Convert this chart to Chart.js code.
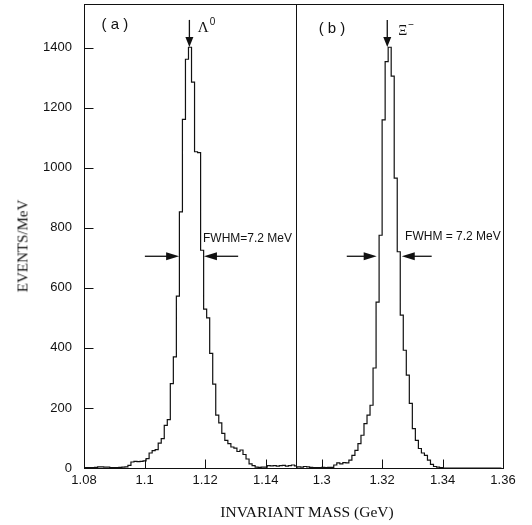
<!DOCTYPE html>
<html>
<head>
<meta charset="utf-8">
<script src="https://cdn.jsdelivr.net/npm/chart.js@4.4.1/dist/chart.umd.min.js"></script>
<style>
body { margin: 0; background: #fff; width: 532px; height: 525px; position: relative; overflow: hidden; }
canvas { position: absolute; top: 0; }
#lambdaChart { left: 0; }
#xiChart { left: 290px; }
.title { position: absolute; font-family: "Liberation Serif", serif; color: #111; white-space: nowrap; }
#ytitle { left: 23px; top: 246px; font-size: 15px; transform: translate(-50%, -50%) rotate(-90deg); }
#xtitle { left: 307px; top: 512px; font-size: 15.5px; transform: translate(-50%, -50%); }
</style>
</head>
<body>
<canvas id="lambdaChart" width="300" height="525"></canvas>
<canvas id="xiChart" width="242" height="525"></canvas>
<div class="title" id="ytitle">EVENTS/MeV</div>
<div class="title" id="xtitle">INVARIANT MASS (GeV)</div>
<script>
// panel (a): Lambda, 1 MeV bins
const lambdaMass = [
  1.080, 1.081, 1.082, 1.083, 1.084, 1.085, 1.086, 1.087, 1.088, 1.089,
  1.090, 1.091, 1.092, 1.093, 1.094, 1.095, 1.096, 1.097, 1.098, 1.099,
  1.100, 1.101, 1.102, 1.103, 1.104, 1.105, 1.106, 1.107, 1.108, 1.109,
  1.110, 1.111, 1.112, 1.113, 1.114, 1.115, 1.116, 1.117, 1.118, 1.119,
  1.120, 1.121, 1.122, 1.123, 1.124, 1.125, 1.126, 1.127, 1.128, 1.129,
  1.130, 1.131, 1.132, 1.133, 1.134, 1.135, 1.136, 1.137, 1.138, 1.139,
  1.140, 1.141, 1.142, 1.143, 1.144, 1.145, 1.146, 1.147, 1.148, 1.149,
  1.150
];
const lambdaEvents = [
  0, 1, 1, 1, 2, 4, 4, 3, 3, 1,
  1, 1, 2, 3, 4, 9, 20, 22, 21, 22,
  24, 31, 50, 58, 61, 83, 98, 142, 161, 281,
  370, 572, 853, 1161, 1361, 1401, 1285, 1053, 1050, 725,
  529, 500, 382, 279, 176, 150, 115, 92, 81, 70,
  66, 55, 60, 45, 30, 14, 8, 3, 2, 3,
  3, 8, 7, 8, 6, 8, 9, 6, 8, 10,
  7
];

// panel (b): Xi-, 1 MeV bins
const xiMass = [
  1.2915, 1.2925, 1.2935, 1.2945, 1.2955, 1.2965, 1.2975, 1.2985, 1.2995, 1.3005,
  1.3015, 1.3025, 1.3035, 1.3045, 1.3055, 1.3065, 1.3075, 1.3085, 1.3095, 1.3105,
  1.3115, 1.3125, 1.3135, 1.3145, 1.3155, 1.3165, 1.3175, 1.3185, 1.3195, 1.3205,
  1.3215, 1.3225, 1.3235, 1.3245, 1.3255, 1.3265, 1.3275, 1.3285, 1.3295, 1.3305,
  1.3315, 1.3325, 1.3335, 1.3345, 1.3355, 1.3365, 1.3375, 1.3385, 1.3395, 1.3405,
  1.3415, 1.3425, 1.3435, 1.3445, 1.3455, 1.3465, 1.3475, 1.3485, 1.3495, 1.3505,
  1.3515, 1.3525, 1.3535, 1.3545, 1.3555, 1.3565, 1.3575, 1.3585, 1.3595
];
const xiEvents = [
  3, 4, 3, 5, 4, 2, 1, 1, 1, 2,
  1, 2, 2, 10, 17, 14, 18, 17, 26, 42,
  59, 81, 109, 148, 176, 209, 333, 552, 775, 1159,
  1353, 1401, 1305, 965, 720, 509, 392, 309, 215, 131,
  92, 65, 50, 42, 26, 12, 5, 3, 1, 0,
  0, 0, 0, 0, 0, 0, 0, 0, 0, 0,
  0, 0, 0, 0, 0, 0, 0, 0, 0
];

const lambdaTicks = [1.08, 1.1, 1.12, 1.14];
const xiTicks = [1.3, 1.32, 1.34, 1.36];
const yTicks = [0, 200, 400, 600, 800, 1000, 1200, 1400];
const yMax = 1545;

const ink = '#111';
const tickFont = { family: 'Liberation Sans', size: 13 };

function arrow(ctx, x0, y0, x1, y1, len, half) {
  const ang = Math.atan2(y1 - y0, x1 - x0);
  ctx.beginPath();
  ctx.moveTo(x0, y0);
  ctx.lineTo(x1 - Math.cos(ang) * len * 0.8, y1 - Math.sin(ang) * len * 0.8);
  ctx.stroke();
  ctx.beginPath();
  ctx.moveTo(x1, y1);
  ctx.lineTo(x1 - Math.cos(ang) * len - Math.sin(ang) * half, y1 - Math.sin(ang) * len + Math.cos(ang) * half);
  ctx.lineTo(x1 - Math.cos(ang) * len + Math.sin(ang) * half, y1 - Math.sin(ang) * len - Math.cos(ang) * half);
  ctx.closePath();
  ctx.fill();
}

// frame, inward ticks and the labels/arrows inside each panel
const framePlugin = {
  id: 'frame',
  afterDatasetsDraw(chart, args, o) {
    const ctx = chart.ctx;
    const a = chart.chartArea;
    const x = chart.scales.x, y = chart.scales.y;
    ctx.save();
    ctx.strokeStyle = ink;
    ctx.fillStyle = ink;
    ctx.lineWidth = 1;
    const l = Math.round(a.left) + 0.5, t = Math.round(a.top) + 0.5;
    const r = Math.round(a.right) + 0.5, b = Math.round(a.bottom) + 0.5;
    ctx.strokeRect(l, t, r - l, b - t);

    ctx.beginPath();
    x.ticks.forEach(tk => {
      const px = Math.round(x.getPixelForValue(tk.value)) + 0.5;
      ctx.moveTo(px, b);
      ctx.lineTo(px, b - 9);
    });
    if (o.yTicks) {
      y.ticks.forEach(tk => {
        const py = Math.round(y.getPixelForValue(tk.value)) + 0.5;
        ctx.moveTo(l, py);
        ctx.lineTo(l + 9, py);
      });
    }
    ctx.stroke();

    const X = v => x.getPixelForValue(v), Y = v => y.getPixelForValue(v);

    // panel letter
    ctx.font = '15px "Liberation Sans"';
    ctx.textAlign = 'center';
    ctx.textBaseline = 'middle';
    ctx.fillText(o.panel, X(o.panelAt[0]), Y(o.panelAt[1]));

    // arrow onto the peak
    ctx.lineWidth = 1.3;
    arrow(ctx, X(o.peak[0]), Y(o.peak[1]), X(o.peak[0]), Y(o.peak[2]), 10, 4);

    // particle symbol
    ctx.textAlign = 'left';
    ctx.textBaseline = 'alphabetic';
    ctx.font = o.symbolFont;
    const sx = X(o.symbolAt[0]), sy = Y(o.symbolAt[1]);
    ctx.fillText(o.symbol, sx, sy);
    const w = ctx.measureText(o.symbol).width;
    ctx.font = '10px "Liberation Sans"';
    ctx.fillText(o.sup, sx + w + 1, sy - 7);

    // FWHM
    ctx.font = '12px "Liberation Sans"';
    ctx.textBaseline = 'middle';
    ctx.fillText(o.fwhmText, X(o.fwhmAt[0]), Y(o.fwhmAt[1]));
    const fy = Y(o.fwhmY);
    o.fwhmArrows.forEach(p => arrow(ctx, X(p[0]), fy, X(p[1]), fy, 13, 4));
    ctx.restore();
  }
};

function makeChart(id, mass, events, xMin, xMax, xTickList, showY, pad, notes) {
  return new Chart(document.getElementById(id), {
    type: 'line',
    data: {
      datasets: [{
        data: mass.map((m, i) => ({ x: m, y: events[i] })),
        stepped: 'middle',
        borderColor: ink,
        borderWidth: 1.2,
        pointRadius: 0,
        fill: false
      }]
    },
    options: {
      responsive: false,
      animation: false,
      layout: { padding: pad },
      plugins: { legend: { display: false }, tooltip: { enabled: false }, frame: notes },
      scales: {
        x: {
          type: 'linear',
          min: xMin,
          max: xMax,
          grid: { display: false, drawTicks: false },
          border: { display: false },
          afterBuildTicks: s => { s.ticks = xTickList.map(v => ({ value: v })); },
          afterFit: s => { s.height = 57; s.paddingLeft = 0; s.paddingRight = 0; },
          ticks: { color: ink, font: tickFont, padding: 5, maxRotation: 0, callback: v => String(v) }
        },
        y: {
          display: showY,
          min: 0,
          max: yMax,
          grid: { display: false, drawTicks: false },
          border: { display: false },
          afterBuildTicks: s => { s.ticks = yTicks.map(v => ({ value: v })); },
          afterFit: s => {
            if (showY) s.width = 84;
            s.paddingTop = 0;
            s.paddingBottom = 0;
          },
          ticks: { color: ink, font: tickFont, padding: 12, callback: v => String(v) }
        }
      }
    },
    plugins: [framePlugin]
  });
}

makeChart('lambdaChart', lambdaMass, lambdaEvents, 1.08, 1.15, lambdaTicks, true,
  { top: 4, right: 4, left: 0, bottom: 0 },
  {
    yTicks: true,
    panel: '( a )', panelAt: [1.0902, 1476],
    peak: [1.1148, 1492, 1402],
    symbol: 'Λ', symbolFont: '15px "Liberation Serif"', sup: '0', symbolAt: [1.1176, 1452],
    fwhmText: 'FWHM=7.2 MeV', fwhmAt: [1.1193, 763],
    fwhmY: 705, fwhmArrows: [[1.1001, 1.1114], [1.1309, 1.1196]]
  });

makeChart('xiChart', xiMass, xiEvents, 1.2915, 1.36, xiTicks, false,
  { top: 4, right: 29, left: 6, bottom: 0 },
  {
    yTicks: false,
    panel: '( b )', panelAt: [1.3034, 1462],
    peak: [1.3217, 1492, 1402],
    symbol: 'Ξ', symbolFont: '14px "Liberation Serif"', sup: '−', symbolAt: [1.3253, 1442],
    fwhmText: 'FWHM = 7.2 MeV', fwhmAt: [1.3276, 771],
    fwhmY: 705, fwhmArrows: [[1.3083, 1.3182], [1.3364, 1.3265]]
  });
</script>
</body>
</html>
